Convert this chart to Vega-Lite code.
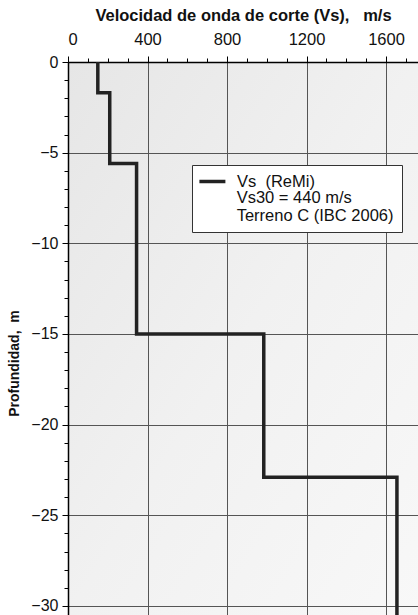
{
  "$schema": "https://vega.github.io/schema/vega-lite/v6.json",
  "width": 350,
  "height": 553,
  "autosize": {"type": "none"},
  "padding": {"left": 68, "top": 62, "right": 0, "bottom": 0},
  "background": "white",
  "config": {
    "font": "Liberation Sans",
    "view": {
      "stroke": null,
      "fill": {
        "gradient": "linear",
        "x1": 0, "y1": 0, "x2": 1, "y2": 1,
        "stops": [
          {"offset": 0, "color": "#e6e6e6"},
          {"offset": 0.5, "color": "#f1f1f1"},
          {"offset": 1, "color": "#f8f8f8"}
        ]
      }
    }
  },
  "data": {
    "values": [
      {"i": 0, "vs": 150, "depth": 0},
      {"i": 1, "vs": 150, "depth": -1.7},
      {"i": 2, "vs": 210, "depth": -1.7},
      {"i": 3, "vs": 210, "depth": -5.6},
      {"i": 4, "vs": 345, "depth": -5.6},
      {"i": 5, "vs": 345, "depth": -15},
      {"i": 6, "vs": 985, "depth": -15},
      {"i": 7, "vs": 985, "depth": -22.9},
      {"i": 8, "vs": 1655, "depth": -22.9},
      {"i": 9, "vs": 1655, "depth": -31}
    ]
  },
  "mark": {"type": "line", "strokeWidth": 3.5, "clip": true, "strokeJoin": "miter", "strokeCap": "butt"},
  "encoding": {
    "x": {
      "field": "vs",
      "type": "quantitative",
      "scale": {"domain": [0, 1761], "nice": false, "zero": false},
      "axis": {
        "orient": "top",
        "title": "Velocidad de onda de corte (Vs),\u00a0\u00a0\u00a0m/s",
        "titleFont": "Liberation Sans",
        "titleFontSize": 16.5,
        "titleFontWeight": "bold",
        "titleColor": "#111",
        "titlePadding": 8,
        "values": [0, 100, 200, 300, 400, 500, 600, 700, 800, 900, 1000, 1100, 1200, 1300, 1400, 1500, 1600, 1700],
        "labelExpr": "datum.value % 400 === 0 ? datum.label : ''",
        "format": "d",
        "labelFontSize": 16.5,
        "labelColor": "#111",
        "labelPadding": 9,
        "domainColor": "#000",
        "domainWidth": 1.5,
        "tickColor": "#000",
        "tickSize": {"condition": {"test": "datum.value % 400 === 0", "value": 6}, "value": 4},
        "grid": true,
        "gridColor": "#555",
        "gridWidth": 1,
        "gridOpacity": {"condition": {"test": "datum.value % 400 === 0", "value": 1}, "value": 0}
      }
    },
    "y": {
      "field": "depth",
      "type": "quantitative",
      "scale": {"domain": [-30.5, 0], "nice": false, "zero": false},
      "axis": {
        "title": "Profundidad,\u00a0\u00a0m",
        "titleFont": "Liberation Sans",
        "titleFontSize": 14,
        "titleFontWeight": "bold",
        "titleColor": "#111",
        "titleX": -47,
        "titleY": 301,
        "titleAnchor": "middle",
        "values": [-30, -29, -28, -27, -26, -25, -24, -23, -22, -21, -20, -19, -18, -17, -16, -15, -14, -13, -12, -11, -10, -9, -8, -7, -6, -5, -4, -3, -2, -1, 0],
        "labelExpr": "datum.value % 5 === 0 ? datum.label : ''",
        "format": "d",
        "labelFontSize": 16,
        "labelColor": "#111",
        "labelPadding": 4,
        "domainColor": "#000",
        "domainWidth": 1.5,
        "tickColor": "#000",
        "tickSize": {"condition": {"test": "datum.value % 5 === 0", "value": 6}, "value": 4},
        "grid": true,
        "gridColor": "#555",
        "gridWidth": 1,
        "gridOpacity": {"condition": {"test": "datum.value % 5 === 0", "value": 1}, "value": 0}
      }
    },
    "order": {"field": "i", "type": "quantitative"},
    "stroke": {
      "datum": "Vs",
      "type": "nominal",
      "scale": {"range": ["#222"]},
      "legend": {
        "orient": "none",
        "legendX": 124,
        "legendY": 103,
        "title": ["\u200b\u00a0\u00a0\u00a0\u00a0\u00a0\u00a0\u00a0\u00a0Vs30 = 440 m/s", "\u200b\u00a0\u00a0\u00a0\u00a0\u00a0\u00a0\u00a0\u00a0Terreno C (IBC 2006)"],
        "titleOrient": "bottom",
        "titleFont": "Liberation Sans",
        "titleFontSize": 16.5,
        "titleFontWeight": "normal",
        "titleColor": "#111",
        "titleLineHeight": 17.5,
        "titlePadding": 0,
        "titleLimit": 400,
        "fillColor": "white",
        "strokeColor": "#333",
        "padding": 8,
        "symbolType": "M-1.4,0H2.6",
        "symbolSize": 169,
        "symbolStrokeWidth": 3.5,
        "symbolStrokeColor": "#222",
        "symbolFillColor": "transparent",
        "labelFont": "Liberation Sans",
        "labelFontSize": 16.5,
        "labelColor": "#111",
        "labelLimit": 300,
        "labelOffset": 20,
        "labelExpr": "'Vs\u00a0\u00a0(ReMi)'"
      }
    }
  }
}
